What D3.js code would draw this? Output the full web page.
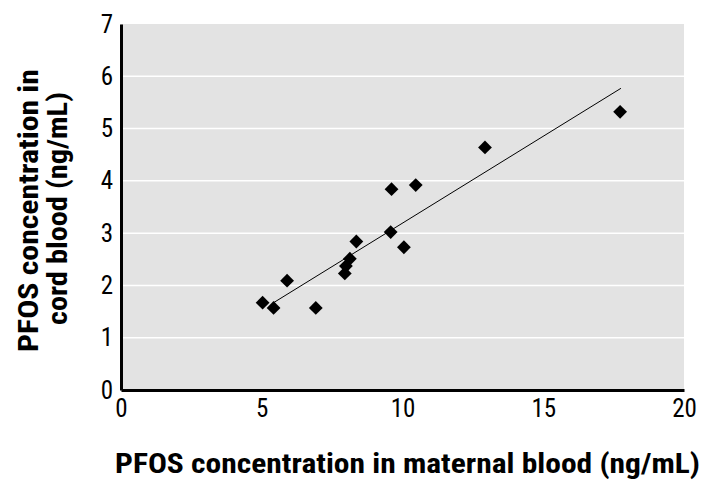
<!DOCTYPE html>
<html><head><meta charset="utf-8">
<script src="https://cdn.jsdelivr.net/npm/d3@7"></script>
<style>
body{margin:0;background:#fff;}
text{font-family:"Liberation Sans Narrow","Arial Narrow","Roboto Condensed",sans-serif;}
</style></head>
<body><svg id="c" width="709" height="493"></svg>
<script>
const maternal = [5.03,5.42,5.90,6.92,7.95,7.99,8.13,8.36,9.58,9.61,10.05,10.47,12.93,17.73];
const cord     = [1.67,1.57,2.09,1.57,2.23,2.37,2.51,2.84,3.02,3.84,2.73,3.92,4.64,5.32];
const trendX = [5.42,17.76];
const trendY = [1.67,5.77];
const xTicks = [0,5,10,15,20];
const yTicks = [0,1,2,3,4,5,6,7];
const xTitle = "PFOS concentration in maternal blood (ng/mL)";
const yTitle = ["PFOS concentration in","cord blood (ng/mL)"];

const svg = d3.select("#c");
const x = d3.scaleLinear().domain([0,20]).range([121,684]);
const y = d3.scaleLinear().domain([0,7]).range([390,24]);

svg.append("rect").attr("x",x(0)).attr("y",y(7)).attr("width",x(20)-x(0)).attr("height",y(0)-y(7)).attr("fill","#e3e3e3");
svg.append("g").selectAll("line").data(yTicks.slice(1,-1)).join("line")
  .attr("x1",x(0)).attr("x2",x(20)).attr("y1",d=>y(d)).attr("y2",d=>y(d))
  .attr("stroke","#fff").attr("stroke-width",1.5);

const xa = svg.append("g").attr("transform",`translate(0,${y(0)})`)
  .call(d3.axisBottom(x).tickValues(xTicks).tickFormat(d3.format("d")).tickSize(0).tickPadding(9));
xa.select(".domain").attr("stroke","#000").attr("stroke-width",3);
xa.selectAll("text").attr("font-size",25).attr("fill","#000").attr("dy","0.71em");
const ya = svg.append("g").attr("transform",`translate(${x(0)},0)`)
  .call(d3.axisLeft(y).tickValues(yTicks).tickFormat(d3.format("d")).tickSize(0).tickPadding(8));
ya.select(".domain").attr("stroke","#000").attr("stroke-width",3);
ya.selectAll("text").attr("font-size",25).attr("fill","#000");

svg.append("line").attr("x1",x(trendX[0])).attr("y1",y(trendY[0])).attr("x2",x(trendX[1])).attr("y2",y(trendY[1]))
  .attr("stroke","#000").attr("stroke-width",1);

const sym = d3.symbol().type(d3.symbolSquare).size(95);
svg.append("g").selectAll("path").data(maternal).join("path")
  .attr("d",sym).attr("fill","#000")
  .attr("transform",(d,i)=>`translate(${x(d)},${y(cord[i])}) rotate(45)`);

svg.append("text").attr("x",115).attr("y",473)
  .attr("font-size",28).attr("font-weight","bold")
  .attr("textLength",585).attr("lengthAdjust","spacingAndGlyphs").text(xTitle);
const yLens = [283,233];
const yBase = [38,67];
svg.selectAll("text.yt").data(yTitle).join("text").attr("class","yt")
  .attr("transform",(d,i)=>`translate(${yBase[i]},${i?208.5:210.5}) rotate(-90)`)
  .attr("text-anchor","middle").attr("font-size",28).attr("font-weight","bold")
  .attr("textLength",(d,i)=>yLens[i]).attr("lengthAdjust","spacingAndGlyphs").text(d=>d);
</script></body></html>
